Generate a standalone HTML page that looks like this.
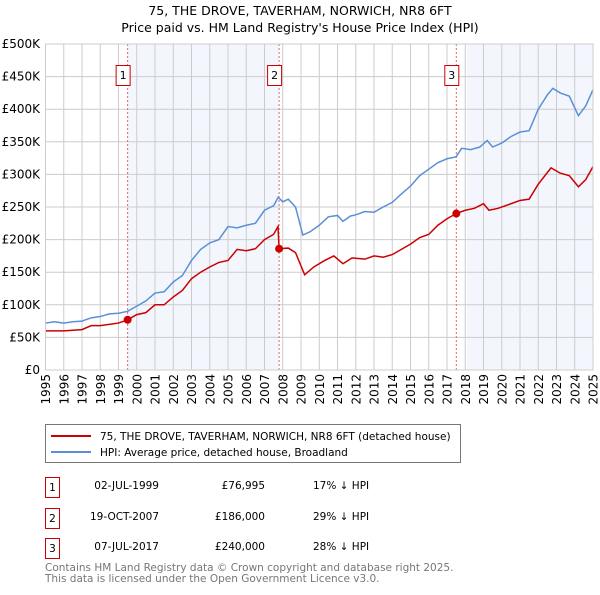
<!DOCTYPE html>
<html><head><meta charset="utf-8"><style>
body{margin:0;background:#fff;font-family:"Liberation Sans","DejaVu Sans",sans-serif;}
svg text{font-family:"DejaVu Sans","Liberation Sans",sans-serif;}
</style></head><body>
<svg id="chart" width="600" height="590" viewBox="0 0 600 590">
<text x="300" y="15" font-size="12.5" text-anchor="middle">75, THE DROVE, TAVERHAM, NORWICH, NR8 6FT</text>
<text x="300" y="32" font-size="12.5" text-anchor="middle">Price paid vs. HM Land Registry's House Price Index (HPI)</text>
<g id="plot"></g>
<g>
<rect x="45.5" y="424.5" width="415" height="38" fill="#fff" stroke="#777"/>
<line x1="51" y1="436" x2="91" y2="436" stroke="#cc0000" stroke-width="2"/>
<text x="100" y="440" font-size="10.5">75, THE DROVE, TAVERHAM, NORWICH, NR8 6FT (detached house)</text>
<line x1="51" y1="452" x2="91" y2="452" stroke="#5b8fd6" stroke-width="2"/>
<text x="100" y="456" font-size="10.5">HPI: Average price, detached house, Broadland</text>
</g>
<g font-size="10.5">
<g><rect x="45.5" y="477.5" width="14" height="20" fill="#fff" stroke="#cc0000"/><text x="52.5" y="491" text-anchor="middle">1</text><text x="159" y="489" text-anchor="end">02-JUL-1999</text><text x="265" y="489" text-anchor="end">£76,995</text><text x="313" y="489">17% ↓ HPI</text></g>
<g><rect x="45.5" y="508.5" width="14" height="20" fill="#fff" stroke="#cc0000"/><text x="52.5" y="522" text-anchor="middle">2</text><text x="159" y="520" text-anchor="end">19-OCT-2007</text><text x="265" y="520" text-anchor="end">£186,000</text><text x="313" y="520">29% ↓ HPI</text></g>
<g><rect x="45.5" y="538.5" width="14" height="20" fill="#fff" stroke="#cc0000"/><text x="52.5" y="552" text-anchor="middle">3</text><text x="159" y="550" text-anchor="end">07-JUL-2017</text><text x="265" y="550" text-anchor="end">£240,000</text><text x="313" y="550">28% ↓ HPI</text></g>
</g>
<text x="45" y="571" font-size="10.5" fill="#777">Contains HM Land Registry data © Crown copyright and database right 2025.</text>
<text x="45" y="582" font-size="10.5" fill="#777">This data is licensed under the Open Government Licence v3.0.</text>
</svg>
<script>
const yTicks=[0,50000,100000,150000,200000,250000,300000,350000,400000,450000,500000];
const yLabels=["£0","£50K","£100K","£150K","£200K","£250K","£300K","£350K","£400K","£450K","£500K"];
const xYears=[1995,1996,1997,1998,1999,2000,2001,2002,2003,2004,2005,2006,2007,2008,2009,2010,2011,2012,2013,2014,2015,2016,2017,2018,2019,2020,2021,2022,2023,2024,2025];
const hpiT=[1995,1995.5,1996,1996.5,1997,1997.5,1998,1998.5,1999,1999.5,2000,2000.5,2001,2001.5,2002,2002.5,2003,2003.5,2004,2004.5,2005,2005.5,2006,2006.5,2007,2007.5,2007.75,2008,2008.3,2008.7,2009.1,2009.5,2010,2010.5,2011,2011.3,2011.7,2012,2012.5,2013,2013.5,2014,2014.5,2015,2015.5,2016,2016.5,2017,2017.5,2017.8,2018.3,2018.8,2019.2,2019.5,2020,2020.5,2021,2021.5,2022,2022.5,2022.8,2023.2,2023.7,2024.2,2024.6,2025];
const hpiV=[72000,74000,72000,74000,75000,80000,82000,86000,87000,90000,98000,106000,118000,120000,135000,145000,168000,185000,195000,200000,220000,218000,222000,225000,245000,252000,265000,258000,262000,250000,207000,212000,222000,235000,237000,228000,236000,238000,243000,242000,250000,257000,270000,282000,298000,308000,318000,324000,327000,340000,338000,342000,352000,342000,348000,358000,365000,367000,400000,422000,432000,425000,420000,390000,405000,430000];
const ppT=[1995,1996,1997,1997.5,1998,1999,1999.5,2000,2000.5,2001,2001.5,2002,2002.5,2003,2003.5,2004,2004.5,2005,2005.5,2006,2006.5,2007,2007.5,2007.74,2007.8,2008.3,2008.7,2009.2,2009.7,2010.3,2010.8,2011.3,2011.8,2012.5,2013,2013.5,2014,2014.5,2015,2015.5,2016,2016.5,2017,2017.51,2018,2018.5,2019,2019.3,2019.8,2020.5,2021,2021.5,2022,2022.7,2023.2,2023.7,2024.2,2024.6,2025];
const ppV=[60000,60000,62000,68000,68000,72000,77000,85000,88000,100000,100000,112000,122000,140000,150000,158000,165000,168000,185000,183000,186000,200000,208000,220000,186000,187000,180000,146000,158000,168000,175000,163000,172000,170000,175000,173000,177000,185000,193000,203000,208000,222000,232000,240000,245000,248000,255000,245000,248000,255000,260000,262000,285000,310000,302000,298000,281000,292000,312000];
const saleT=[1999.5,2007.8,2017.51];
const saleV=[76995,186000,240000];
const saleLabels=["1","2","3"];
const L=45.5,R=593,T=44,B=370;
const X=t=>L+(t-1995)/(2025-1995)*(R-L);
const Y=v=>B-v/500000*(B-T);
const NS="http://www.w3.org/2000/svg";
const g=document.getElementById('plot');
function mk(tag,attrs,parent){const e=document.createElementNS(NS,tag);for(const k in attrs)e.setAttribute(k,attrs[k]);(parent||g).appendChild(e);return e;}
let e;
e=mk('rect',{x:X(saleT[0]),y:T,width:X(saleT[1])-X(saleT[0]),height:B-T,fill:'#eef3fc',opacity:0.7});


e=mk('rect',{x:X(2018.1),y:T,width:R-X(2018.1),height:B-T,fill:'#eef3fc',opacity:0.7});


yTicks.forEach((v,i)=>{
 e=mk('line',{x1:L,x2:R,y1:Y(v),y2:Y(v),stroke:'#ccc','stroke-width':1});
 
 
 e=mk('text',{x:40,y:Y(v)+4,'font-size':12,'text-anchor':'end'});e.textContent=yLabels[i];
 
 
});
xYears.forEach(yr=>{
 e=mk('line',{x1:X(yr),x2:X(yr),y1:T,y2:B,stroke:'#ccc','stroke-width':1});
 
 
 e=mk('text',{x:0,y:0,'font-size':12,'text-anchor':'end',transform:`translate(${X(yr)+4.5},374) rotate(-90)`});e.textContent=yr;
 
 
});
saleT.forEach((t,i)=>{
 e=mk('line',{x1:X(t),x2:X(t),y1:T,y2:B,stroke:'#e06666','stroke-width':1,'stroke-dasharray':'2,2'});
 
 
 e=mk('rect',{x:X(t)-11.5,y:65.5,width:14,height:20,fill:'#fff',stroke:'#cc0000'});
 
 
 e=mk('text',{x:X(t)-4.5,y:79,'font-size':11,'text-anchor':'middle'});e.textContent=saleLabels[i];
 
 
});
e=mk('polyline',{points:hpiT.map((t,i)=>X(t)+','+Y(hpiV[i])).join(' '),fill:'none',stroke:'#5b8fd6','stroke-width':1.5});


e=mk('polyline',{points:ppT.map((t,i)=>X(t)+','+Y(ppV[i])).join(' '),fill:'none',stroke:'#cc0000','stroke-width':1.5});


saleT.forEach((t,i)=>{
 e=mk('circle',{cx:X(t),cy:Y(saleV[i]),r:4,fill:'#cc0000'});
 
 
});
e=mk('rect',{x:L,y:T,width:R-L,height:B-T,fill:'none',stroke:'#ccc'});


</script>
</body></html>
